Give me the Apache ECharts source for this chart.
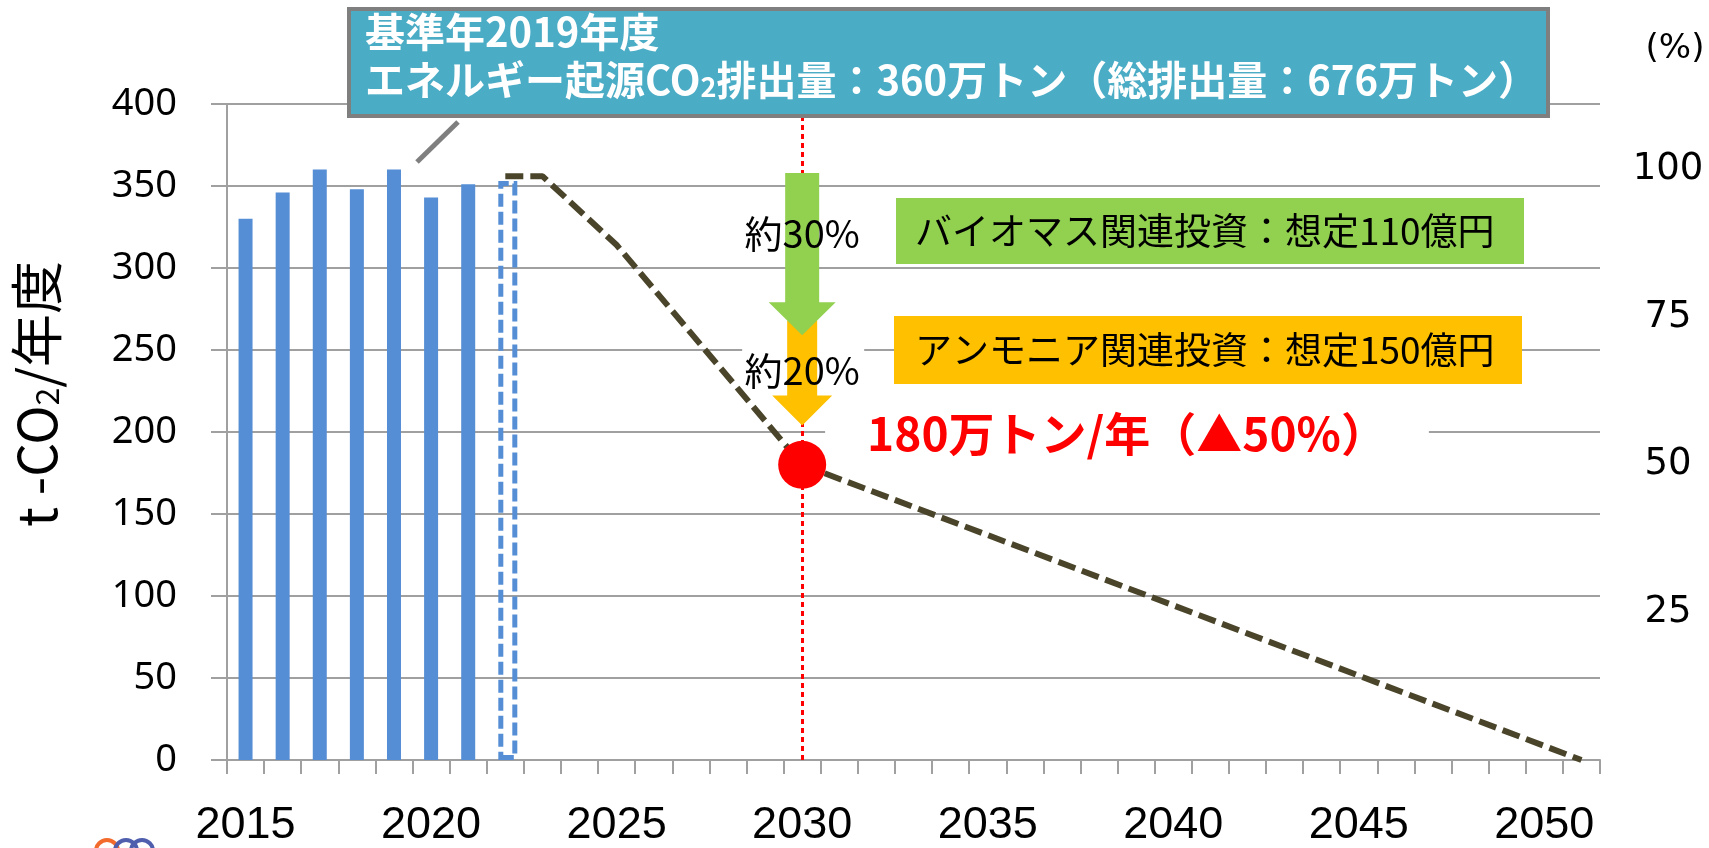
<!DOCTYPE html>
<html>
<head>
<meta charset="utf-8">
<script src="https://cdn.jsdelivr.net/npm/echarts@6/dist/echarts.min.js"></script>
<style>
  html, body { margin: 0; padding: 0; background: #ffffff; }
  #chart { width: 1709px; height: 848px; }
</style>
</head>
<body>
<div id="chart"></div>
<script>
// Fiscal years on the horizontal axis
const years = ['2015','2016','2017','2018','2019','2020','2021','2022','2023','2024',
  '2025','2026','2027','2028','2029','2030','2031','2032','2033','2034',
  '2035','2036','2037','2038','2039','2040','2041','2042','2043','2044',
  '2045','2046','2047','2048','2049','2050','2051'];

// Energy-related CO2 emissions, 10k t-CO2 per year (2015-2021 actual)
const actualYears = ['2015','2016','2017','2018','2019','2020','2021'];
const actualValues = [330, 346, 360, 348, 360, 343, 351];

// 2022 provisional figure (dashed outline bar)
const provisionalYears = ['2022'];
const provisionalValues = [353];

// Reduction pathway towards 2050
const pathwayYears = ['2022', '2023', '2025', '2030', '2051'];
const pathwayValues = [356, 356, 314, 180, 0];

// 2030 target
const targetYear = '2030';
const targetValue = 180;

// Left axis ticks (10k t-CO2) and right axis ticks (% of 2019 base)
const leftTicks = [0, 50, 100, 150, 200, 250, 300, 350, 400];
const rightTicks = [25, 50, 75, 100];
const baseYearValue = 360;

// Reduction steps shown as arrows at the target year
const stepFrom = [358, 268];
const stepTo = [259, 204];
const stepLabels = ['約30%', '約20%'];

const chart = echarts.init(document.getElementById('chart'), null, { renderer: 'canvas' });

const GRAY = '#a0a0a0';
const BLUE = '#558ed5';
const JP = '"Noto Sans CJK JP", "Noto Sans", sans-serif';

const option = {
  animation: false,
  backgroundColor: '#ffffff',
  grid: { left: 227, right: 109, top: 104, bottom: 80, containLabel: false },
  xAxis: {
    type: 'category',
    data: years,
    boundaryGap: true,
    axisLine: { lineStyle: { color: GRAY, width: 2 } },
    axisTick: { show: true, interval: 0, length: 14, lineStyle: { color: GRAY, width: 2 } },
    axisLabel: {
      interval: (i, v) => Number(v) % 5 === 0,
      margin: 43,
      color: '#000',
      fontFamily: '"Liberation Sans Narrow", "Liberation Sans", sans-serif',
      fontSize: 45
    },
    splitLine: { show: false }
  },
  yAxis: [
    {
      type: 'value',
      position: 'left',
      min: leftTicks[0],
      max: leftTicks[leftTicks.length - 1],
      interval: leftTicks[1] - leftTicks[0],
      name: '{t|t -CO}{s|2}{t|/年度}',
      nameLocation: 'middle',
      nameGap: 164,
      nameRotate: 90,
      nameTextStyle: {
        padding: [0, 0, 0, 76],
        rich: {
          t: { fontSize: 53, fontFamily: JP, color: '#000', verticalAlign: 'bottom', lineHeight: 60 },
          s: { fontSize: 32, fontFamily: JP, color: '#000', verticalAlign: 'bottom', lineHeight: 42 }
        }
      },
      axisLine: { show: true, lineStyle: { color: GRAY, width: 2 } },
      axisTick: { show: true, inside: false, length: 16, lineStyle: { color: GRAY, width: 2 } },
      axisLabel: {
        margin: 50,
        color: '#000',
        fontFamily: '"Noto Sans", sans-serif',
        fontSize: 38
      },
      splitLine: { show: true, lineStyle: { color: GRAY, width: 2 } }
    },
    {
      type: 'value',
      position: 'right',
      min: 0,
      max: 400 / baseYearValue * 100,
      interval: 25,
      name: '(%)',
      nameLocation: 'end',
      nameGap: 38,
      nameTextStyle: {
        color: '#000',
        fontFamily: '"DejaVu Sans", sans-serif',
        fontSize: 34,
        align: 'center',
        padding: [0, 0, 0, 150]
      },
      axisLine: { show: false },
      axisTick: { show: false },
      splitLine: { show: false },
      axisLabel: {
        margin: 68,
        align: 'center',
        color: '#000',
        fontFamily: '"DejaVu Sans", sans-serif',
        fontSize: 37,
        formatter: v => (rightTicks.indexOf(Math.round(v * 1000) / 1000) >= 0 ? String(v) : '')
      }
    }
  ],
  series: [
    {
      name: '速報',
      type: 'bar',
      barWidth: 19,
      barGap: '-100%',
      itemStyle: {
        color: 'rgba(255,255,255,0)',
        borderColor: BLUE,
        borderWidth: 5,
        borderType: [13, 5]
      },
      data: provisionalYears.map((y, i) => [y, provisionalValues[i]]),
      z: 3
    },
    {
      name: '実績',
      type: 'bar',
      barWidth: 14,
      barGap: '-100%',
      itemStyle: { color: BLUE },
      data: actualYears.map((y, i) => [y, actualValues[i]]),
      z: 3
    },
    {
      name: '削減経路',
      type: 'line',
      symbol: 'none',
      lineStyle: { color: '#4a452a', width: 6, type: [18, 7] },
      data: pathwayYears.map((y, i) => [y, pathwayValues[i]]),
      z: 4
    },
    {
      name: '2030年目標',
      type: 'scatter',
      symbol: 'circle',
      symbolSize: 48,
      itemStyle: { color: '#ff0000', opacity: 1 },
      data: [[targetYear, targetValue]],
      z: 6,
      markLine: {
        silent: true,
        symbol: 'none',
        label: { show: false },
        lineStyle: { color: '#ff0000', width: 3, type: [5, 4] },
        data: [{ xAxis: targetYear }],
        z: 1
      }
    }
  ]
};

chart.setOption(option);

// Annotations: arrows anchored to the target year, boxes and notes
const px = (x, y) => chart.convertToPixel({ gridIndex: 0 }, [x, y]);
const cx = px(targetYear, 0)[0];

function arrow(fromV, toV, shaftW, headW, headL, color, z) {
  const top = px(targetYear, fromV)[1];
  const tip = px(targetYear, toV)[1];
  const neck = tip - headL;
  return {
    type: 'polygon',
    z: z,
    shape: {
      points: [
        [cx - shaftW / 2, top], [cx + shaftW / 2, top],
        [cx + shaftW / 2, neck], [cx + headW / 2, neck],
        [cx, tip],
        [cx - headW / 2, neck], [cx - shaftW / 2, neck]
      ]
    },
    style: { fill: color }
  };
}

const y250 = px(targetYear, 250)[1];
const y200 = px(targetYear, 200)[1];

const graphics = [
  // gap in the 250 gridline behind the 約20% note
  { type: 'rect', z: 1, shape: { x: cx - 60, y: y250 - 6, width: 122, height: 12 }, style: { fill: '#ffffff' } },
  arrow(stepFrom[1], stepTo[1], 30, 60, 30, '#ffc000', 20),
  arrow(stepFrom[0], stepTo[0], 34, 67, 33, '#92d050', 21),
  {
    type: 'text', z: 22, x: cx, y: 234,
    style: { text: stepLabels[0], fill: '#000', font: '38px ' + JP, align: 'center', verticalAlign: 'middle' }
  },
  {
    type: 'text', z: 22, x: cx, y: 371,
    style: { text: stepLabels[1], fill: '#000', font: '38px ' + JP, align: 'center', verticalAlign: 'middle' }
  },
  // base-year callout
  { type: 'line', z: 30, shape: { x1: 458, y1: 122, x2: 417, y2: 162 }, style: { stroke: '#7f7f7f', lineWidth: 5 } },
  {
    type: 'rect', z: 30,
    shape: { x: 349, y: 9, width: 1199, height: 107 },
    style: { fill: '#4bacc6', stroke: '#7f7f7f', lineWidth: 4 }
  },
  {
    type: 'text', z: 31, x: 365, y: 4,
    style: {
      text: '{a|基準年2019年度}\n{a|エネルギー起源CO}{b|2}{a|排出量：360万トン（総排出量：676万トン）}',
      rich: {
        a: { fill: '#ffffff', fontSize: 40, fontWeight: 'bold', fontFamily: JP, lineHeight: 48, verticalAlign: 'bottom' },
        b: { fill: '#ffffff', fontSize: 27, fontWeight: 'bold', fontFamily: JP, lineHeight: 41, verticalAlign: 'bottom' }
      }
    }
  },
  // investment boxes
  { type: 'rect', z: 15, shape: { x: 896, y: 198, width: 628, height: 66 }, style: { fill: '#92d050' } },
  {
    type: 'text', z: 16, x: 915, y: 231,
    style: { text: 'バイオマス関連投資：想定110億円', fill: '#000', font: '37px ' + JP, verticalAlign: 'middle' }
  },
  { type: 'rect', z: 15, shape: { x: 894, y: 316, width: 628, height: 68 }, style: { fill: '#ffc000' } },
  {
    type: 'text', z: 16, x: 915, y: 350,
    style: { text: 'アンモニア関連投資：想定150億円', fill: '#000', font: '37px ' + JP, verticalAlign: 'middle' }
  },
  // 2030 target note
  {
    type: 'text', z: 15, x: 1127, y: y200 + 2,
    style: {
      text: targetValue + '万トン/年（▲50%）',
      fill: '#ff0000', font: 'bold 46px ' + JP,
      align: 'center', verticalAlign: 'middle',
      backgroundColor: '#ffffff', padding: [0, 42, 0, 42]
    }
  },
  // logo fragment at the lower-left corner
  { type: 'circle', z: 5, shape: { cx: 107, cy: 851, r: 11 }, style: { fill: 'none', stroke: '#f26a2c', lineWidth: 4 } },
  { type: 'circle', z: 5, shape: { cx: 126, cy: 851, r: 11 }, style: { fill: 'none', stroke: '#4f5fad', lineWidth: 4 } },
  { type: 'circle', z: 5, shape: { cx: 142, cy: 851, r: 11 }, style: { fill: 'none', stroke: '#4f5fad', lineWidth: 4 } }
];

chart.setOption({ graphic: graphics });
</script>
</body>
</html>
